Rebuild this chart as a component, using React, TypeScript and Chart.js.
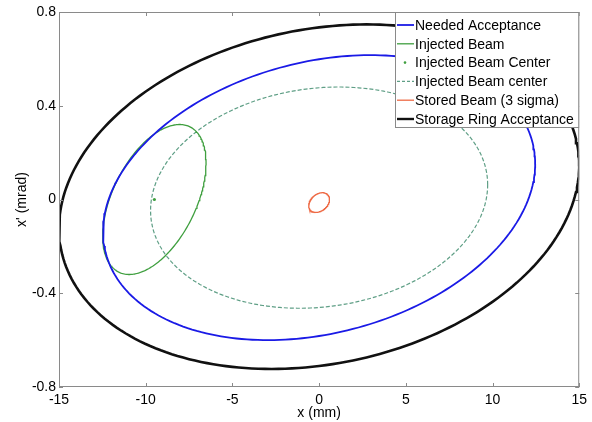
import React, { useEffect, useRef } from "react";
import { Chart, registerables } from "chart.js";

Chart.register(...registerables);

// Ellipse definitions (phase-space ellipses)
const ellipseLabels = [
  "Needed Acceptance",
  "Injected Beam",
  "Injected Beam center",
  "Stored Beam (3 sigma)",
  "Storage Ring Acceptance",
];
const ellipseCenterX = [0, -9.5, 0, 0, 0];
const ellipseCenterY = [0.008, 0.0, 0.008, -0.013, 0.012];
const ellipseHalfWidth = [12.46, 2.98, 9.72, 0.6, 15.0];
const ellipseHalfHeight = [0.608, 0.32, 0.472, 0.042, 0.735];
const ellipseEdgeSlope = [0.145, 0.156, 0.055, 0.013, 0.135];
const ellipseColors = ["#1a1ae6", "#3f9f3f", "#5f9f86", "#ee6a45", "#111111"];
const ellipseWidths = [1.8, 1.3, 1.2, 1.3, 2.6];
const ellipseDashes = [[], [], [4, 2], [], []];

const centerLabel = "Injected Beam Center";
const centerPointX = [-9.5];
const centerPointY = [0.0];

const xTicks = [-15, -10, -5, 0, 5, 10, 15];
const yTicks = [-0.8, -0.4, 0, 0.4, 0.8];

function ellipsePoints(i: number) {
  const pts: { x: number; y: number }[] = [];
  const X = ellipseHalfWidth[i];
  const Y = ellipseHalfHeight[i];
  const d = Math.asin(ellipseEdgeSlope[i] / Y);
  const n = 240;
  for (let k = 0; k <= n; k++) {
    const t = (2 * Math.PI * k) / n;
    pts.push({ x: ellipseCenterX[i] + X * Math.cos(t), y: ellipseCenterY[i] + Y * Math.sin(t + d) });
  }
  return pts;
}

const FONT = "'Liberation Sans', Arial, sans-serif";

const frameLegendPlugin = {
  id: "frameLegend",
  afterDraw(chart: any) {
    const { ctx, chartArea: a, scales } = chart;
    ctx.save();
    ctx.strokeStyle = "#8a8a8a";
    ctx.lineWidth = 1;
    ctx.strokeRect(a.left + 0.5, a.top + 0.5, a.right - a.left - 1, a.bottom - a.top - 1);
    const tl = 4;
    ctx.beginPath();
    xTicks.forEach((v) => {
      const px = Math.round(scales.x.getPixelForValue(v)) + 0.5;
      ctx.moveTo(px, a.bottom);
      ctx.lineTo(px, a.bottom - tl);
      ctx.moveTo(px, a.top);
      ctx.lineTo(px, a.top + tl);
    });
    yTicks.forEach((v) => {
      const py = Math.round(scales.y.getPixelForValue(v)) + 0.5;
      ctx.moveTo(a.left, py);
      ctx.lineTo(a.left + tl, py);
      ctx.moveTo(a.right, py);
      ctx.lineTo(a.right - tl, py);
    });
    ctx.stroke();

    const lx = 395;
    const ly = a.top;
    const lw = a.right - lx;
    const lh = 116;
    ctx.fillStyle = "#ffffff";
    ctx.fillRect(lx, ly, lw, lh);
    ctx.strokeStyle = "#8a8a8a";
    ctx.strokeRect(lx + 0.5, ly + 0.5, lw - 1, lh - 1);
    const items: any[] = [
      { label: ellipseLabels[0], color: ellipseColors[0], w: 1.8, dash: [] },
      { label: ellipseLabels[1], color: ellipseColors[1], w: 1.3, dash: [] },
      { label: centerLabel, color: ellipseColors[1], dot: true },
      { label: ellipseLabels[2], color: ellipseColors[2], w: 1.2, dash: [3, 2] },
      { label: ellipseLabels[3], color: ellipseColors[3], w: 1.3, dash: [] },
      { label: ellipseLabels[4], color: ellipseColors[4], w: 2.4, dash: [] },
    ];
    ctx.font = `14px ${FONT}`;
    ctx.textBaseline = "middle";
    items.forEach((it, k) => {
      const y = ly + 13 + k * 18.8;
      if (it.dot) {
        ctx.fillStyle = it.color;
        ctx.beginPath();
        ctx.arc(405, y, 1.3, 0, Math.PI * 2);
        ctx.fill();
      } else {
        ctx.strokeStyle = it.color;
        ctx.lineWidth = it.w;
        ctx.setLineDash(it.dash);
        ctx.beginPath();
        ctx.moveTo(397, y);
        ctx.lineTo(414, y);
        ctx.stroke();
        ctx.setLineDash([]);
      }
      ctx.fillStyle = "#000";
      ctx.fillText(it.label, 415, y + 1);
    });
    ctx.restore();
  },
};

export default function App() {
  const ref = useRef<HTMLCanvasElement | null>(null);
  useEffect(() => {
    if (!ref.current) return;
    const datasets: any[] = ellipseLabels.map((lab, i) => ({
      label: lab,
      data: ellipsePoints(i),
      showLine: true,
      borderColor: ellipseColors[i],
      borderWidth: ellipseWidths[i],
      borderDash: ellipseDashes[i],
      pointRadius: 0,
      fill: false,
      tension: 0,
      order: i === 4 ? 10 : i,
    }));
    datasets.push({
      label: centerLabel,
      data: centerPointX.map((x, k) => ({ x, y: centerPointY[k] })),
      showLine: false,
      pointRadius: 1.6,
      pointBackgroundColor: ellipseColors[1],
      pointBorderWidth: 0,
      order: 0,
    });
    const chart = new Chart(ref.current, {
      type: "scatter",
      data: { datasets },
      plugins: [frameLegendPlugin],
      options: {
        animation: false,
        responsive: false,
        maintainAspectRatio: false,
        layout: { padding: { top: 12, right: 12, left: 0, bottom: 0 } },
        plugins: { legend: { display: false }, tooltip: { enabled: false } },
        scales: {
          x: {
            type: "linear",
            min: -15,
            max: 15,
            afterBuildTicks: (s: any) => {
              s.ticks = xTicks.map((v) => ({ value: v }));
            },
            afterFit: (s: any) => {
              s.height = 35;
            },
            grid: { display: false, drawTicks: false },
            border: { display: false },
            ticks: {
              color: "#000",
              padding: 5,
              font: { family: FONT, size: 14 },
              maxRotation: 0,
            },
            title: {
              display: true,
              text: "x (mm)",
              color: "#000",
              font: { family: FONT, size: 14 },
              padding: { top: 0, bottom: 0 },
            },
          },
          y: {
            type: "linear",
            min: -0.8,
            max: 0.8,
            afterBuildTicks: (s: any) => {
              s.ticks = yTicks.map((v) => ({ value: v }));
            },
            afterFit: (s: any) => {
              s.width = 59;
            },
            grid: { display: false, drawTicks: false },
            border: { display: false },
            ticks: {
              color: "#000",
              padding: 3,
              font: { family: FONT, size: 14 },
              callback: (v: any) => String(Math.round(Number(v) * 10) / 10),
            },
            title: {
              display: true,
              text: "x' (mrad)",
              color: "#000",
              font: { family: FONT, size: 14 },
              padding: { top: 14, bottom: 0 },
            },
          },
        },
      },
    } as any);
    return () => chart.destroy();
  }, []);
  return (
    <div style={{ position: "fixed", left: 0, top: 0, width: 592, height: 422, background: "#fff" }}>
      <canvas ref={ref} width={592} height={422} style={{ width: 592, height: 422 }} />
    </div>
  );
}
